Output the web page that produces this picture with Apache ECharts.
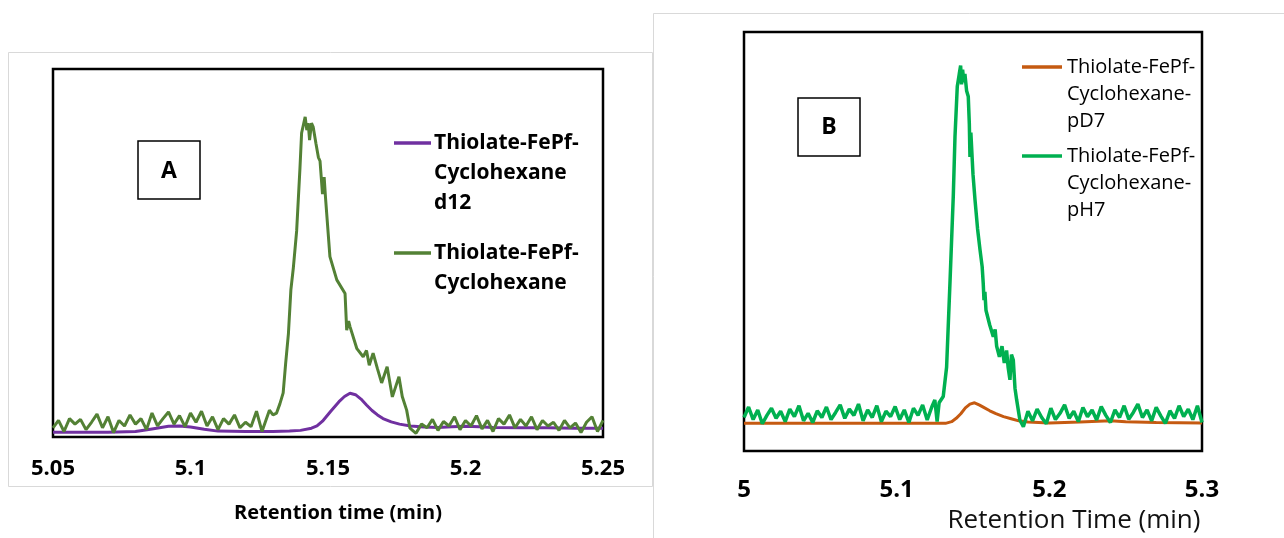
<!DOCTYPE html>
<html>
<head>
<meta charset="utf-8">
<script src="https://cdn.jsdelivr.net/npm/echarts@6/dist/echarts.min.js"></script>
<style>
html,body{margin:0;padding:0;background:#fff;}
#main{width:1284px;height:538px;}
</style>
</head>
<body>
<div id="main"></div>
<script>
// panel A : [retention time, signal]
var greenA = [
[5.050,2.5],[5.052,4.5],[5.054,1.5],[5.056,5.0],[5.058,3.5],[5.060,4.8],[5.062,2.0],[5.064,4.0],
[5.066,6.2],[5.068,2.5],[5.070,5.5],[5.072,1.2],[5.074,4.5],[5.076,3.0],[5.078,6.0],[5.080,3.5],
[5.082,5.0],[5.084,2.0],[5.086,6.5],[5.088,3.0],[5.090,5.0],[5.092,6.8],[5.094,3.5],[5.096,5.8],
[5.098,2.8],[5.100,6.5],[5.102,4.0],[5.104,7.0],[5.106,3.0],[5.108,5.5],[5.110,2.0],[5.112,5.0],
[5.114,3.5],[5.116,6.0],[5.118,2.5],[5.120,4.0],[5.122,2.8],[5.124,7.0],[5.126,1.5],
[5.1287,7.3],[5.1300,6.0],[5.1313,6.5],[5.1325,9.0],[5.1337,12],[5.1346,20],[5.1356,28],
[5.1365,40],[5.1374,46],[5.1386,56],[5.1398,73],[5.1404,82.6],[5.1417,87],[5.1423,83.4],
[5.1428,85.3],[5.1433,80.7],[5.1440,85.3],[5.1446,84.3],[5.1456,79.8],[5.1465,76],
[5.1471,75],[5.1480,66],[5.1486,70.6],[5.1491,65],[5.1507,49],[5.1532,42.7],[5.1562,39],
[5.1568,29],[5.1575,31.5],[5.1580,30],[5.1605,24],[5.1628,21.8],[5.1640,23.5],[5.1650,19.5],
[5.1664,22.8],[5.1680,18.5],[5.1695,14.7],[5.1715,19.1],[5.1734,10.9],[5.1758,16.4],
[5.1770,11.0],[5.1786,7.3],[5.1798,2.4],
[5.182,1.0],[5.184,3.5],[5.186,2.5],[5.188,4.8],[5.190,1.8],[5.192,4.2],[5.194,3.0],[5.196,5.5],
[5.198,2.0],[5.200,4.5],[5.202,3.0],[5.204,5.8],[5.206,2.2],[5.208,4.5],[5.210,1.5],[5.212,5.0],
[5.214,3.5],[5.216,6.0],[5.218,2.5],[5.220,4.8],[5.222,3.0],[5.224,5.5],[5.226,2.0],[5.228,4.5],
[5.230,3.0],[5.232,4.0],[5.234,1.8],[5.236,4.5],[5.238,2.5],[5.240,3.8],[5.242,1.2],[5.244,4.0],
[5.246,5.5],[5.248,1.5],[5.250,4.5]
];
var purpleA = [
[5.050,1.3],[5.060,1.3],[5.070,1.3],[5.080,1.5],[5.086,2.2],[5.092,2.9],[5.096,3.0],[5.100,2.7],
[5.105,2.1],[5.110,1.6],[5.120,1.5],[5.130,1.5],[5.136,1.6],[5.140,1.8],[5.144,2.4],[5.146,3.0],
[5.148,4.3],[5.151,7.0],[5.154,9.6],[5.156,11.0],[5.158,11.9],[5.160,11.5],[5.162,10.3],
[5.164,8.7],[5.166,7.2],[5.168,6.0],[5.170,5.0],[5.173,4.1],[5.176,3.5],[5.180,3.0],[5.185,2.7],
[5.190,2.6],[5.195,2.8],[5.200,2.9],[5.205,2.8],[5.210,2.6],[5.220,2.5],[5.230,2.5],[5.240,2.4],
[5.250,2.4]
];
// panel B
var greenB = [
[5.000,8.0],[5.003,10.5],[5.006,7.5],[5.009,9.8],[5.012,6.5],[5.015,8.5],[5.018,10.2],[5.021,7.8],
[5.024,9.5],[5.027,7.0],[5.030,10.0],[5.033,8.2],[5.036,10.8],[5.039,7.2],[5.042,9.0],[5.045,6.8],
[5.048,9.6],[5.051,8.0],[5.054,10.5],[5.057,7.5],[5.060,9.2],[5.063,11.0],[5.066,7.8],[5.069,10.0],
[5.072,8.5],[5.075,11.2],[5.078,7.2],[5.081,9.8],[5.084,8.0],[5.087,10.8],[5.090,7.0],[5.093,9.5],
[5.096,8.2],[5.099,10.6],[5.102,7.5],[5.105,9.8],[5.108,6.8],[5.111,10.2],[5.114,8.5],[5.117,11.0],
[5.120,7.4],[5.123,10.5],[5.125,12.2],[5.1265,7.0],
[5.1278,11.5],[5.1305,13],[5.1327,20],[5.1349,40],[5.1371,61],[5.1382,75],[5.1397,87],
[5.1410,90],[5.1419,92],[5.1425,87.5],[5.1432,91],[5.1440,88],[5.1447,90],[5.1458,86],
[5.1469,84.6],[5.1476,78],[5.1480,70.2],[5.1486,76],[5.1491,75.8],[5.1500,66],[5.1513,60],
[5.1530,53],[5.1546,48],[5.1560,44],[5.1567,40],[5.1572,36],[5.1578,38],[5.1585,33.6],
[5.1610,30],[5.1633,27.3],[5.1645,29],[5.1655,25],[5.1666,24.9],[5.1673,22.5],[5.1690,25],
[5.1705,21],[5.1720,24],[5.1730,20],[5.1742,17],[5.1752,23],[5.1764,21.7],[5.1775,15],
[5.1786,12.2],[5.1807,7.4],
[5.183,5.8],[5.186,9.5],[5.189,7.2],[5.192,10.0],[5.195,8.0],[5.198,6.5],[5.201,10.2],[5.204,7.5],
[5.207,9.0],[5.210,11.0],[5.213,7.8],[5.216,9.5],[5.219,7.0],[5.222,10.4],[5.225,8.2],[5.228,9.8],
[5.231,7.4],[5.234,10.6],[5.237,8.5],[5.240,6.8],[5.243,9.8],[5.246,8.0],[5.249,10.8],[5.252,7.6],
[5.255,9.2],[5.258,11.2],[5.261,8.0],[5.264,9.8],[5.267,7.2],[5.270,10.4],[5.273,8.4],[5.276,6.6],
[5.279,9.6],[5.282,7.8],[5.285,10.8],[5.288,8.2],[5.291,10.0],[5.294,7.5],[5.297,10.8],[5.300,6.8]
];
var orangeB = [
[5.000,6.6],[5.050,6.6],[5.100,6.6],[5.132,6.6],[5.136,7.0],[5.139,7.8],[5.142,8.9],[5.145,10.3],
[5.148,11.2],[5.151,11.5],[5.154,11.0],[5.157,10.4],[5.161,9.6],[5.165,8.9],[5.170,8.2],
[5.175,7.7],[5.180,7.2],[5.186,6.9],[5.200,6.7],[5.220,6.9],[5.240,7.2],[5.250,7.0],[5.270,6.8],
[5.300,6.7]
];

var namesA = ['Thiolate-FePf-\nCyclohexane\nd12', 'Thiolate-FePf-\nCyclohexane'];
var namesB = ['Thiolate-FePf-\nCyclohexane-\npD7', 'Thiolate-FePf-\nCyclohexane-\npH7'];
var colA = ['#7030A0', '#538135'];
var colB = ['#C55A11', '#00B050'];

var fnt = '"Open Sans", "Liberation Sans", sans-serif';
var myChart = echarts.init(document.getElementById('main'));

function xAx(gi, mn, mx, step, size, margin) {
  return {
    type: 'value', gridIndex: gi, min: mn, max: mx, interval: step,
    axisLine: {show: false}, axisTick: {show: false}, splitLine: {show: false},
    axisLabel: {
      margin: margin, color: '#000', fontFamily: fnt, fontWeight: 'bold', fontSize: size,
      formatter: function (v) { return String(Math.round(v * 100) / 100); }
    }
  };
}
function yAx(gi) {
  return {type: 'value', gridIndex: gi, min: 0, max: 100, show: false};
}
function legendItem(x, y, len, gap, col, txt, bold, size, lh) {
  return [
    {type: 'line', shape: {x1: x, y1: y, x2: x + len, y2: y}, style: {stroke: col, lineWidth: 3.5}},
    {type: 'text', x: x + len + gap, y: y - lh / 2,
     style: {text: txt, fill: '#000', font: (bold ? 'bold ' : '') + size + 'px ' + fnt, lineHeight: lh, verticalAlign: 'top'}}
  ];
}

var gfx = [
  {type: 'rect', shape: {x: 8.5, y: 52.5, width: 644, height: 434}, style: {fill: 'none', stroke: '#d9d9d9', lineWidth: 1}},
  {type: 'rect', shape: {x: 653.5, y: 13.5, width: 640, height: 540}, style: {fill: 'none', stroke: '#d9d9d9', lineWidth: 1}},
  {type: 'rect', shape: {x: 138, y: 141, width: 62, height: 58}, style: {fill: '#fff', stroke: '#000', lineWidth: 1.5}},
  {type: 'text', x: 169, y: 171, style: {text: 'A', font: 'bold 23px ' + fnt, fill: '#000', align: 'center', verticalAlign: 'middle'}},
  {type: 'rect', shape: {x: 798, y: 98, width: 62, height: 58}, style: {fill: '#fff', stroke: '#000', lineWidth: 1.5}},
  {type: 'text', x: 829, y: 127, style: {text: 'B', font: 'bold 23px ' + fnt, fill: '#000', align: 'center', verticalAlign: 'middle'}},
  {type: 'text', x: 338, y: 513, style: {text: 'Retention time (min)', font: 'bold 20px ' + fnt, fill: '#000', align: 'center', verticalAlign: 'middle'}},
  {type: 'text', x: 1074, y: 521, style: {text: 'Retention Time (min)', font: '26px ' + fnt, fill: '#111', align: 'center', verticalAlign: 'middle'}}
];
gfx = gfx.concat(legendItem(394, 143, 37, 3, colA[0], namesA[0], true, 21, 30));
gfx = gfx.concat(legendItem(394, 253, 37, 3, colA[1], namesA[1], true, 21, 30));
gfx = gfx.concat(legendItem(1022, 67, 40, 5, colB[0], namesB[0], false, 20, 27));
gfx = gfx.concat(legendItem(1022, 156, 40, 5, colB[1], namesB[1], false, 20, 27));

var option = {
  animation: false,
  backgroundColor: '#fff',
  grid: [
    {left: 53, top: 69, width: 550, height: 368, show: true, borderColor: '#000', borderWidth: 2.5, backgroundColor: 'transparent'},
    {left: 744, top: 32, width: 458, height: 419, show: true, borderColor: '#000', borderWidth: 2.5, backgroundColor: 'transparent'}
  ],
  xAxis: [xAx(0, 5.05, 5.25, 0.05, 22, 21), xAx(1, 5, 5.3, 0.1, 24, 27)],
  yAxis: [yAx(0), yAx(1)],
  graphic: gfx,
  series: [
    {name: namesA[0], type: 'line', xAxisIndex: 0, yAxisIndex: 0, data: purpleA, showSymbol: false, lineStyle: {color: colA[0], width: 3}, z: 3},
    {name: namesA[1], type: 'line', xAxisIndex: 0, yAxisIndex: 0, data: greenA, showSymbol: false, lineStyle: {color: colA[1], width: 3}, z: 4},
    {name: namesB[0], type: 'line', xAxisIndex: 1, yAxisIndex: 1, data: orangeB, showSymbol: false, lineStyle: {color: colB[0], width: 3}, z: 3},
    {name: namesB[1], type: 'line', xAxisIndex: 1, yAxisIndex: 1, data: greenB, showSymbol: false, lineStyle: {color: colB[1], width: 3.5}, z: 4}
  ]
};
myChart.setOption(option);
</script>
</body>
</html>
